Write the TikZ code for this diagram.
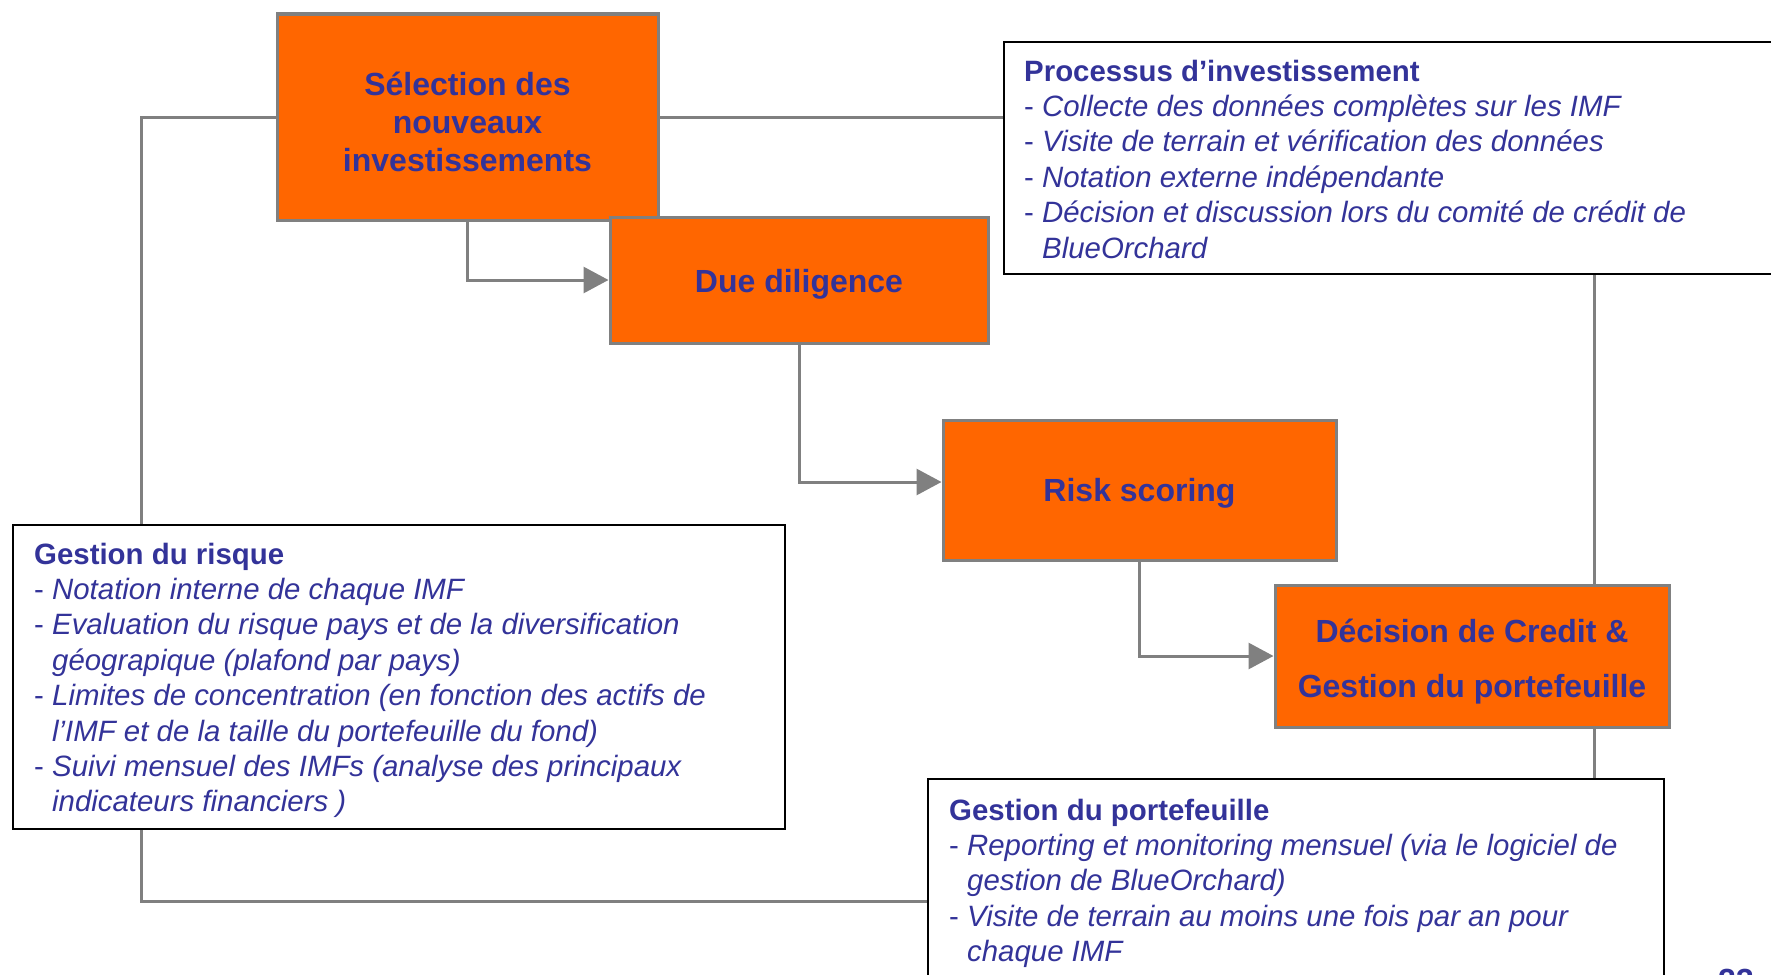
\documentclass[tikz,border=0pt]{standalone}
\usepackage{fontspec}
\setmainfont{Liberation Sans}
\usetikzlibrary{arrows.meta}
\definecolor{procorange}{RGB}{255,102,0}
\definecolor{txtblue}{RGB}{51,51,153}
\definecolor{linegray}{RGB}{128,128,128}
\newcommand{\boxfont}{\fontsize{32bp}{38.4bp}\selectfont\bfseries}
\newcommand{\infofont}{\fontsize{29.4bp}{35.4bp}\selectfont}
\newcommand{\puce}[1]{- \textit{#1}}
\newcommand{\suite}[1]{\phantom{- }\textit{#1}}
\tikzset{
	stage/.style={draw=linegray, line width=3bp, fill=procorange, inner sep=0pt},
	stagetext/.style={text=txtblue, font=\boxfont, align=center, inner sep=0pt},
	infobox/.style={draw=black, line width=2bp, fill=white, inner sep=0pt, anchor=north west},
	infotext/.style={text=txtblue, font=\infofont, align=left, inner sep=0pt, anchor=north west},
	link/.style={draw=linegray, line width=3bp},
	flow/.style={link, -{Triangle[length=25bp,width=26bp]}}
}
\begin{document}
\begin{tikzpicture}[x=1bp, y=-1bp]
			%%%%% START %%%%%
			\useasboundingbox (0,0) rectangle (1771,974);
			
			\node[stage, minimum width=381bp, minimum height=206bp] (sel) at (467.5,117) {};
			\node[stagetext] (seltxt) at ([yshift=-5bp]sel.center) {S\'election des\\nouveaux\\investissements};
			\node[stage, minimum width=378bp, minimum height=126bp] (due) at (799,280) {};
			\node[stagetext] (duetxt) at ([yshift=-4.5bp]due.center) {Due diligence};
			\node[stage, minimum width=393bp, minimum height=140bp] (risk) at (1139.5,490) {};
			\node[stagetext] (risktxt) at ([yshift=-3.5bp]risk.center) {Risk scoring};
			\node[stage, minimum width=394bp, minimum height=142bp] (dec) at (1472,656) {};
			\node[stagetext] (dectxt) at ([yshift=-5.5bp]dec.center) {D\'ecision de Credit \&\\[16.6bp]Gestion du portefeuille};
			
			\node[infobox, minimum width=820bp, minimum height=232bp] (proc) at (1003,41) {};
			\node[infotext] (proctxt) at ([xshift=21bp, yshift=-18.5bp]proc.north west) {\textbf{Processus d’investissement}\\
				\puce{Collecte des donn\'ees compl\`etes sur les IMF}\\
				\puce{Visite de terrain et v\'erification des donn\'ees}\\
				\puce{Notation externe ind\'ependante}\\
				\puce{D\'ecision et discussion lors du comit\'e de cr\'edit de}\\
				\suite{BlueOrchard}};
			
			\node[infobox, minimum width=772bp, minimum height=304bp] (risque) at (12,524) {};
			\node[infotext] (risquetxt) at ([xshift=22bp, yshift=-18.5bp]risque.north west) {\textbf{Gestion du risque}\\
				\puce{Notation interne de chaque IMF}\\
				\puce{Evaluation du risque pays et de la diversification}\\
				\suite{g\'eograpique (plafond par pays)}\\
				\puce{Limites de concentration (en fonction des actifs de}\\
				\suite{l’IMF et de la taille du portefeuille du fond)}\\
				\puce{Suivi mensuel des IMFs (analyse des principaux}\\
				\suite{indicateurs financiers )}};
			
			\node[infobox, minimum width=736bp, minimum height=230bp] (port) at (927,778) {};
			\node[infotext] (porttxt) at ([xshift=22bp, yshift=-20.5bp]port.north west) {\textbf{Gestion du portefeuille}\\
				\puce{Reporting et monitoring mensuel (via le logiciel de}\\
				\suite{gestion de BlueOrchard)}\\
				\puce{Visite de terrain au moins une fois par an pour}\\
				\suite{chaque IMF}};
			
			\node[text=txtblue, font=\boxfont, inner sep=0pt, anchor=base west] (page) at (1718,991) {23};
			
			\coordinate (lx) at (141.7,0);
			\coordinate (rx) at (1594,0);
			\coordinate (by) at (0,901);
			
			\draw[link] (sel.west) -| (risque.north -| lx);
			\draw[link] (risque.south -| lx) |- (port.west |- by);
			\draw[link] (sel.east) -- (proc.west |- sel.east);
			\draw[link] (proc.south -| rx) -- (dec.north -| rx);
			\draw[link] (dec.south -| rx) -- (port.north -| rx);
			
			\draw[flow] (sel.south) |- (due.west);
			\draw[flow] (due.south) |- ([yshift=8bp]risk.west);
			\draw[flow] (risk.south) |- (dec.west);
			%%%%% END %%%%%
\end{tikzpicture}
\end{document}
